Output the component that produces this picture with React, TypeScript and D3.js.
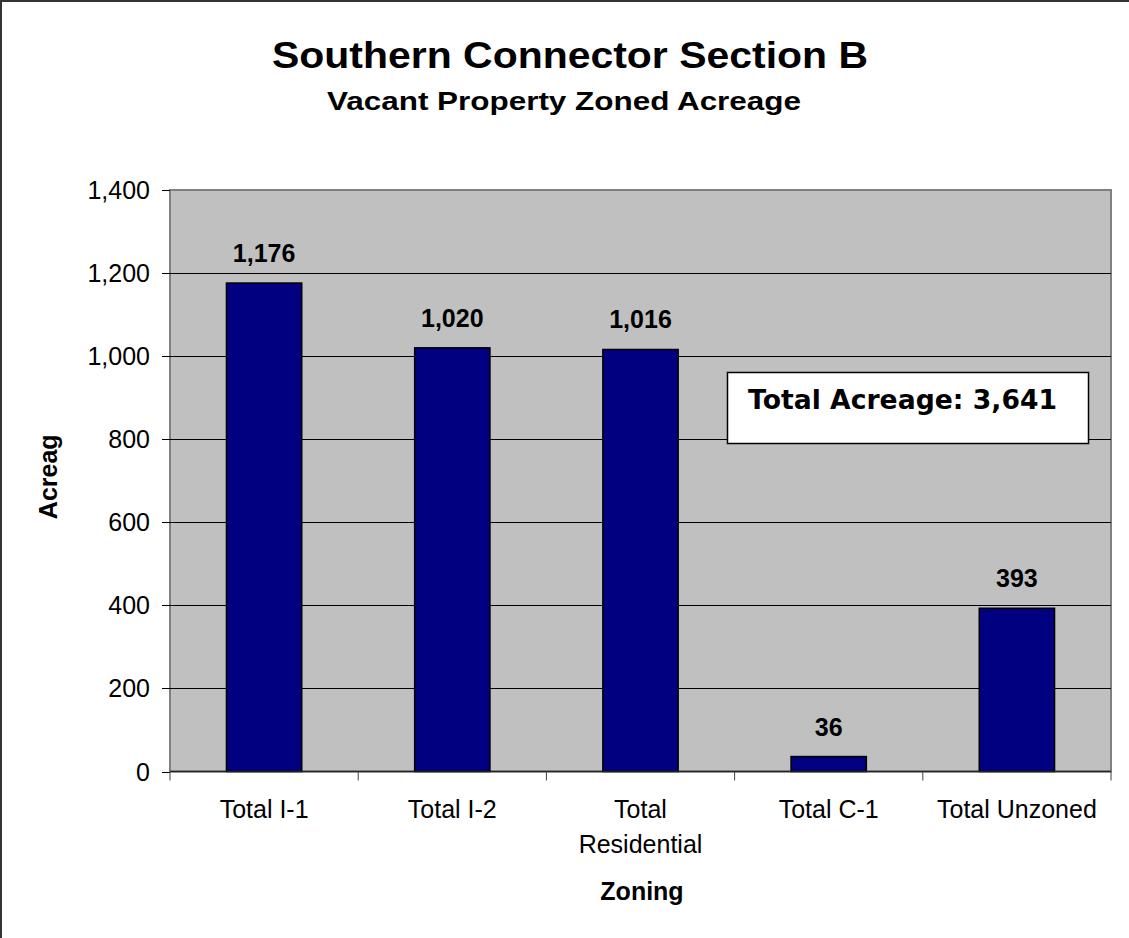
import React from "react";
import * as d3 from "d3";

const categoryLabels: string[][] = [
  ["Total I-1"],
  ["Total I-2"],
  ["Total", "Residential"],
  ["Total C-1"],
  ["Total Unzoned"],
];
const values: number[] = [1176, 1020, 1016, 36, 393];
const yTicks: number[] = [0, 200, 400, 600, 800, 1000, 1200, 1400];
const titleText = "Southern Connector Section B";
const subtitleText = "Vacant Property Zoned Acreage";
const yAxisTitle = "Acreag";
const xAxisTitle = "Zoning";
const noteText = "Total Acreage: 3,641";

const W = 1129;
const H = 938;
const plot = { left: 170, top: 190, right: 1111, bottom: 771.5 };
const ARIAL = "'Liberation Sans', Arial, sans-serif";

export default function App() {
  const x = d3
    .scaleBand<number>()
    .domain(values.map((_, i) => i))
    .range([plot.left, plot.right])
    .paddingInner(0.6)
    .paddingOuter(0.3);
  const step = x.step();
  const y = d3.scaleLinear().domain([0, 1400]).range([plot.bottom, plot.top]);
  const fmt = d3.format(",");
  const boundaries = d3.range(values.length + 1).map((i) => plot.left + i * step);

  return (
    <svg
      width={W}
      height={H}
      style={{ position: "absolute", left: 0, top: 0, background: "#fff" }}
    >
      <rect x={0} y={0} width={W} height={H} fill="#fff" />
      {/* outer frame */}
      <rect x={1} y={1} width={W + 20} height={H + 20} fill="none" stroke="#333" strokeWidth={2} />

      {/* titles */}
      <text
        x={570}
        y={68}
        textAnchor="middle"
        fontFamily={ARIAL}
        fontWeight="bold"
        fontSize={37}
        textLength={596}
        lengthAdjust="spacingAndGlyphs"
      >
        {titleText}
      </text>
      <text
        x={564}
        y={110}
        textAnchor="middle"
        fontFamily={ARIAL}
        fontWeight="bold"
        fontSize={25}
        textLength={474}
        lengthAdjust="spacingAndGlyphs"
      >
        {subtitleText}
      </text>

      {/* plot area */}
      <rect
        x={plot.left}
        y={plot.top}
        width={plot.right - plot.left}
        height={plot.bottom - plot.top}
        fill="#C0C0C0"
        stroke="#808080"
        strokeWidth={2}
      />
      {/* gridlines */}
      {yTicks
        .filter((t) => t > 0 && t < 1400)
        .map((t) => (
          <line
            key={"g" + t}
            x1={plot.left}
            x2={plot.right}
            y1={Math.round(y(t)) + 0.5}
            y2={Math.round(y(t)) + 0.5}
            stroke="#000"
            strokeWidth={1}
          />
        ))}

      {/* y ticks and labels */}
      {yTicks.map((t) => (
        <g key={"t" + t}>
          <line
            x1={162}
            x2={plot.left}
            y1={Math.round(y(t)) + 0.5}
            y2={Math.round(y(t)) + 0.5}
            stroke="#000"
            strokeWidth={1}
          />
          <text
            x={150}
            y={y(t) + 9}
            textAnchor="end"
            fontFamily={ARIAL}
            fontSize={25}
            fill="#000"
          >
            {fmt(t)}
          </text>
        </g>
      ))}

      {/* bars */}
      {values.map((v, i) => (
        <rect
          key={"b" + i}
          x={x(i)!}
          y={y(v)}
          width={x.bandwidth()}
          height={plot.bottom - y(v)}
          fill="#000080"
          stroke="#000"
          strokeWidth={1.5}
        />
      ))}

      {/* x axis line */}
      <line x1={plot.left} x2={plot.right} y1={plot.bottom} y2={plot.bottom} stroke="#222" strokeWidth={1.5} />
      {boundaries.map((bx, i) => (
        <line
          key={"xt" + i}
          x1={bx}
          x2={bx}
          y1={plot.bottom}
          y2={plot.bottom + 9}
          stroke="#404040"
          strokeWidth={1}
        />
      ))}

      {/* data labels */}
      {values.map((v, i) => (
        <text
          key={"dl" + i}
          x={x(i)! + x.bandwidth() / 2}
          y={y(v) - 21}
          textAnchor="middle"
          fontFamily={ARIAL}
          fontWeight="bold"
          fontSize={25}
          fill="#000"
        >
          {fmt(v)}
        </text>
      ))}

      {/* category labels */}
      {categoryLabels.map((lines, i) => (
        <text
          key={"cl" + i}
          x={x(i)! + x.bandwidth() / 2}
          y={818}
          textAnchor="middle"
          fontFamily={ARIAL}
          fontSize={25}
          fill="#000"
        >
          {lines.map((ln, j) => (
            <tspan key={j} x={x(i)! + x.bandwidth() / 2} dy={j === 0 ? 0 : 35}>
              {ln}
            </tspan>
          ))}
        </text>
      ))}

      {/* axis titles */}
      <text
        x={642}
        y={900}
        textAnchor="middle"
        fontFamily={ARIAL}
        fontWeight="bold"
        fontSize={25}
        fill="#000"
      >
        {xAxisTitle}
      </text>
      <text
        transform={`translate(57, ${(plot.top + plot.bottom) / 2 - 4}) rotate(-90)`}
        textAnchor="middle"
        fontFamily={ARIAL}
        fontWeight="bold"
        fontSize={25}
        fill="#000"
      >
        {yAxisTitle}
      </text>

      {/* total acreage note */}
      <rect x={727.5} y={372.5} width={361} height={71} fill="#fff" stroke="#000" strokeWidth={1.5} />
      <text
        x={748}
        y={409}
        fontFamily="'DejaVu Sans', Verdana, sans-serif"
        fontWeight="bold"
        fontSize={26}
        textLength={309}
        lengthAdjust="spacingAndGlyphs"
        fill="#000"
      >
        {noteText}
      </text>
    </svg>
  );
}
